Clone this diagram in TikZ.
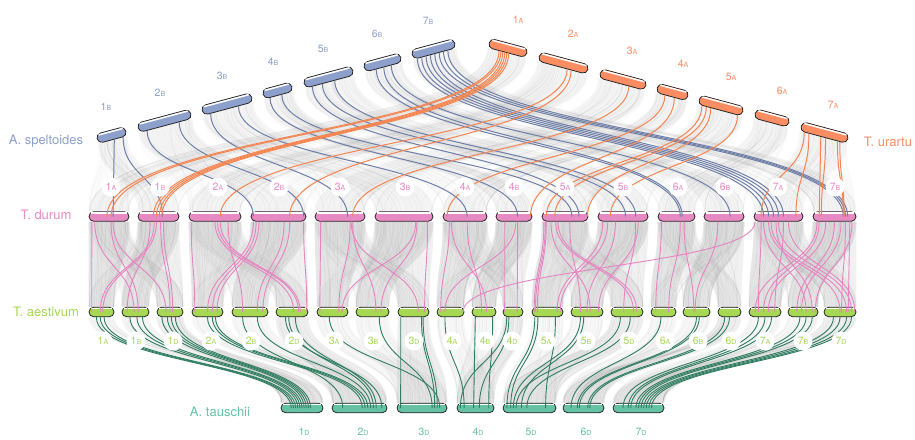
\documentclass[tikz,border=0pt]{standalone}
\usepackage{fontspec}
\setmainfont{TeX Gyre Heros}
\usetikzlibrary{calc}
\pgfdeclarelayer{bg}\pgfdeclarelayer{fg}\pgfdeclarelayer{lab}
\pgfsetlayers{bg,main,fg,lab}
\definecolor{cspel}{HTML}{8DA0CB}
\definecolor{curar}{HTML}{FC8D62}
\definecolor{cdur}{HTML}{E78AC3}
\definecolor{caes}{HTML}{A6D854}
\definecolor{ctau}{HTML}{66C2A5}
\definecolor{lspel}{HTML}{6E7EA6}
\definecolor{lurar}{HTML}{F5844F}
\definecolor{ldur}{HTML}{E584C0}
\definecolor{ltau}{HTML}{2E7D60}
\tikzset{
 chrbar/.style={rectangle, rounded corners=4.7pt, minimum height=9.5pt, inner sep=0pt, draw=black!85, line width=0.8pt, fill=#1},
 grayln/.style={draw=black!50, line width=0.3pt, opacity=0.09},
 spelln/.style={draw=lspel, line width=1pt},
 urarln/.style={draw=lurar, line width=1pt},
 durln/.style={draw=ldur, line width=0.9pt},
 tauln/.style={draw=ltau, line width=0.9pt},
 chrlab/.style={circle, fill=white, inner sep=0pt, minimum size=19pt, text=#1},
 species/.style={font=\fontsize{13}{15}\selectfont, text=#1, inner sep=0pt, text height=9.4pt, text depth=0pt}
}
\newcommand\chrnum[2]{{\fontsize{10.5}{12}\selectfont #1}{\fontsize{7}{8}\selectfont #2}}
\newcommand\mkbar[6]{%
 \node[chrbar=#6, minimum width=#4pt, rotate=#5] (#1) at (#2,#3) {};%
 \draw[white, line width=1.5pt, shorten <=2.8pt, shorten >=2.8pt] ($(#1.north west)!0.17!(#1.south west)$) -- ($(#1.north east)!0.17!(#1.south east)$);}
\newcommand\grays[4]{%
 \foreach \k in {1,...,#3}{%
  \pgfmathsetmacro\fa{0.03+0.94*rnd}%
  \pgfmathsetmacro\fb{max(0.03,min(0.97,\fa+#4*(rnd-0.5)))}%
  \path ($(#1.south west)!\fa!(#1.south east)$) coordinate (ga) ($(#2.north west)!\fb!(#2.north east)$) coordinate (gb);%
  \draw[grayln] (ga) .. controls ($(ga)!0.5!(ga |- gb)$) and ($(gb)!0.5!(gb |- ga)$) .. (gb);%
 }}
\newcommand\ribbon[3]{%
 \path (#1.south west) coordinate (ra) (#1.south east) coordinate (rb) (#2.north west) coordinate (rc) (#2.north east) coordinate (rd);%
 \fill[black!22, fill opacity=#3] (ra) .. controls ($(ra)!0.5!(ra |- rc)$) and ($(rc)!0.5!(rc |- ra)$) .. (rc) -- (rd) .. controls ($(rd)!0.5!(rd |- rb)$) and ($(rb)!0.5!(rb |- rd)$) .. (rb) -- cycle;}
\newcommand\cln[5]{%
 \path ($(#2.south west)!#3!(#2.south east)$) coordinate (ca) ($(#4.west)!#5!(#4.east)$) coordinate (cb);%
 \draw[#1] (ca) .. controls ($(ca)!0.5!(ca |- cb)$) and ($(cb)!0.5!(cb |- ca)$) .. (cb);}
\begin{document}
\begin{tikzpicture}[x=1pt,y=-1pt]
\useasboundingbox (0,0) rectangle (915,439);
\pgfmathsetseed{4242}
% ---------------- chromosome bars
\foreach \nm/\x/\y/\L in {s1/111.5/135/29.7, s2/164.5/120.8/54.5, s3/227/104/51.4, s4/277.5/90.5/29.7, s5/328.5/77/50.4, s6/382.5/62.4/38, s7/433.5/49/44.2}
 {\mkbar{\nm}{\x}{\y}{\L}{15}{cspel}}
\foreach \nm/\x/\y/\L in {u1/508/48/39, u2/563.5/63/50.4, u3/623/79.5/47.3, u4/672.5/92/31.7, u5/721/105.5/45.2, u6/772/118/34.9, u7/824.5/132.5/48.3}
 {\mkbar{\nm}{\x}{\y}{\L}{-15}{curar}}
\foreach \nm/\x/\L in {dA1/109/40, dB1/158.5/41, dA2/215/52, dB2/278.5/55, dA3/340/50, dB3/404/58, dA4/465/44, dB4/514/36, dA5/565/46, dB5/623/50, dA6/676.5/37, dB6/724/40, dA7/778.5/49, dB7/834.5/43}
 {\mkbar{\nm}{\x}{216.5}{\L}{0}{cdur}}
\foreach \nm/\x/\L in {aA1/101.5/25, aB1/135.5/27, aD1/170/26, aA2/207.5/31, aB2/250/36, aD2/292/32, aA3/332.5/31, aB3/372.5/33, aD3/413.5/31, aA4/450.5/27, aB4/484/24, aD4/513/20, aA5/547.5/31, aB5/587/32, aD5/627/32, aA6/663.5/25, aB6/696.5/27, aD6/729.5/23, aA7/765/32, aB7/803/30, aD7/840/32}
 {\mkbar{\nm}{\x}{312}{\L}{0}{caes}}
\foreach \nm/\x/\L in {t1/302/42, t2/359.5/55, t3/422/50, t4/475.5/37, t5/529.5/53, t6/583.5/41, t7/638.5/51}
 {\mkbar{\nm}{\x}{408}{\L}{0}{ctau}}
% ---------------- background synteny
\begin{pgfonlayer}{bg}
\foreach \n in {1,...,7}{
 \ribbon{s\n}{dB\n}{0.14}
 \ribbon{u\n}{dA\n}{0.14}
 \ribbon{s\n}{dA\n}{0.06}
 \ribbon{u\n}{dB\n}{0.06}
 \ribbon{dA\n}{aA\n}{0.42}
 \ribbon{dB\n}{aB\n}{0.42}
 \ribbon{dA\n}{aD\n}{0.25}
 \ribbon{dB\n}{aD\n}{0.25}
 \ribbon{dA\n}{aB\n}{0.12}
 \ribbon{dB\n}{aA\n}{0.12}
 \ribbon{aD\n}{t\n}{0.28}
 \ribbon{aA\n}{t\n}{0.15}
 \ribbon{aB\n}{t\n}{0.15}
 \grays{s\n}{dB\n}{28}{0.5}
 \grays{u\n}{dA\n}{28}{0.5}
 \grays{s\n}{dA\n}{10}{1.5}
 \grays{u\n}{dB\n}{10}{1.5}
 \grays{dA\n}{aA\n}{36}{0.5}
 \grays{dB\n}{aB\n}{36}{0.5}
 \grays{dA\n}{aD\n}{18}{1.2}
 \grays{dB\n}{aD\n}{18}{1.2}
 \grays{dA\n}{aB\n}{10}{1.5}
 \grays{dB\n}{aA\n}{10}{1.5}
 \grays{aD\n}{t\n}{28}{0.5}
 \grays{aA\n}{t\n}{16}{1.0}
 \grays{aB\n}{t\n}{16}{1.0}
}
\end{pgfonlayer}
% ---------------- highlighted links
\begin{pgfonlayer}{fg}
\foreach \s/\a/\t/\b in {s1/.55/dA1/.6, s1/.85/dB1/.6, s2/.15/dB2/.05, s2/.75/dB2/.95, s3/.15/dA3/.65, s3/.7/dA4/.55, s4/.2/dB4/.6, s4/.6/dA5/.65, s5/.15/dA5/.8, s5/.35/dB5/.55, s5/.6/dB5/.75, s6/.3/dA6/.6, s6/.5/dA6/.65, s6/.7/dB6/.65, s7/.1/dA7/.2, s7/.2/dA7/.3, s7/.3/dA7/.4, s7/.4/dA7/.5, s7/.5/dA7/.6, s7/.6/dB7/.7, s7/.7/dB7/.75, s7/.8/dB7/.8}
 {\cln{spelln}{\s}{\a}{\t}{\b}}
\foreach \s/\a/\t/\b in {u1/.30/dA1/.45, u1/.35/dA1/.55, u1/.40/dB1/.38, u1/.45/dB1/.45, u1/.5/dB1/.52, u1/.55/dB1/.58, u2/.6/dA2/.6, u2/.68/dB2/.7, u3/.65/dA3/.75, u4/.3/dA4/.1, u4/.6/dB4/.95, u5/.1/dA5/.1, u5/.2/dA5/.28, u5/.3/dA5/.98, u5/.9/dB5/.25, u7/.1/dA7/.15, u7/.2/dA7/.85, u7/.45/dB7/.15, u7/.55/dB7/.2, u7/.8/dB7/.7, u7/.85/dB7/.72}
 {\cln{urarln}{\s}{\a}{\t}{\b}}
\foreach \s/\a/\t/\b in {dA1/.08/aA1/.12, dA1/.15/aB1/.45, dA1/.55/aB1/.6, dA1/.6/aD1/.35, dB1/.4/aA1/.45, dB1/.45/aA1/.55, dB1/.55/aD1/.5, dB1/.62/aD1/.6, dB1/.3/aB1/.2,
 dA2/.05/aA2/.1, dA2/.5/aD2/.55, dA2/.55/aD2/.7, dA2/.6/aD2/.75, dA2/.75/aB2/.3, dB2/.05/aA2/.5, dB2/.1/aA2/.65, dB2/.15/aA2/.8, dB2/.6/aB2/.7, dB2/.7/aB2/.85, dB2/.95/aD2/.95,
 dA3/.12/aA3/.1, dA3/.7/aA3/.7, dA3/.72/aD3/.65, dA3/.75/aB3/.6, dB3/.7/aA3/.8, dB3/.72/aB3/.75, dB3/.9/aD3/.85,
 dA4/.15/aA4/.15, dA4/.2/aB4/.6, dA4/.55/aB4/.4, dB4/.55/aA4/.3, dB4/.25/aD4/.1, dB4/.6/aD4/.7, dA7/.03/aA4/.95,
 dA5/.05/aA5/.08, dA5/.08/aA5/.12, dA5/.1/aA5/.18, dA5/.2/aB5/.6, dA5/.3/aD5/.7, dA5/.35/aD5/.8, dA5/.6/aB5/.3, dB5/.1/aA5/.8, dB5/.2/aA5/.9, dB5/.35/aB5/.5, dB5/.75/aD5/.4, dB5/.8/aB5/.85,
 dA6/.1/aA6/.2, dA6/.6/aA6/.7, dA6/.7/aB6/.4, dB6/.35/aB6/.45,
 dA7/.15/aA7/.3, dA7/.2/aB7/.6, dA7/.3/aD7/.5, dA7/.35/aD7/.7, dA7/.45/aB7/.8, dA7/.5/aD7/.85, dA7/.6/aA7/.8, dA7/.7/aD7/.95, dB7/.1/aA7/.2, dB7/.15/aA7/.45, dB7/.3/aA7/.6, dB7/.5/aB7/.3, dB7/.65/aB7/.45, dB7/.75/aD7/.55, dB7/.85/aD7/.75, dB7/.9/aB7/.9}
 {\cln{durln}{\s}{\a}{\t}{\b}}
\foreach \s/\a/\t/\b in {aA1/.3/t1/.25, aA1/.45/t1/.3, aA1/.6/t1/.35, aB1/.3/t1/.4, aB1/.55/t1/.45, aB1/.75/t1/.5, aD1/.2/t1/.55, aD1/.4/t1/.6, aD1/.55/t1/.65, aD1/.7/t1/.7,
 aA2/.5/t2/.55, aA2/.65/t2/.6, aA2/.75/t2/.65, aB2/.3/t2/.2, aB2/.7/t2/.7, aD2/.4/t2/.75, aD2/.6/t2/.8, aD2/.3/t2/.9,
 aA3/.4/t3/.85, aB3/.7/t3/.7, aD3/.1/t3/.08, aD3/.75/t3/.75, aD3/.8/t3/.8,
 aA4/.3/t4/.2, aB4/.15/t4/.45, aB4/.85/t4/.85, aD4/.2/t4/.1, aD4/.3/t4/.6,
 aA5/.1/t5/.08, aA5/.2/t5/.15, aA5/.75/t5/.8, aB5/.3/t5/.2, aB5/.4/t5/.35, aD5/.3/t5/.25, aD5/.6/t5/.45,
 aA6/.4/t6/.2, aB6/.5/t6/.35, aB6/.6/t6/.4, aD6/.3/t6/.6, aD6/.5/t6/.65,
 aA7/.3/t7/.2, aA7/.5/t7/.3, aA7/.7/t7/.35, aB7/.4/t7/.45, aB7/.6/t7/.5, aB7/.8/t7/.55, aD7/.3/t7/.6, aD7/.5/t7/.65, aD7/.7/t7/.7, aD7/.85/t7/.75}
 {\cln{tauln}{\s}{\a}{\t}{\b}}
\end{pgfonlayer}
% ---------------- labels
\begin{pgfonlayer}{lab}
\foreach \nm/\x/\y in {1/106/107, 2/160/93, 3/222/76, 4/273/62, 5/323/49, 6/377/34, 7/428/21}
 {\node[chrlab=cspel] (ls\nm) at (\x,\y) {\chrnum{\nm}{B}};}
\foreach \nm/\x/\y in {1/518/20, 2/573/34, 3/632/51, 4/683/64, 5/731/77, 6/782/91, 7/833/105}
 {\node[chrlab=curar] (lu\nm) at (\x,\y) {\chrnum{\nm}{A}};}
\foreach \nm/\g/\x in {1/A/111, 1/B/160, 2/A/218, 2/B/279, 3/A/340, 3/B/405, 4/A/465, 4/B/514, 5/A/565, 5/B/623, 6/A/678, 6/B/725, 7/A/778, 7/B/835}
 {\node[chrlab=cdur] (ld\g\nm) at (\x,187) {\chrnum{\nm}{\g}};}
\foreach \nm/\g/\x in {1/A/103, 1/B/136, 1/D/173, 2/A/211, 2/B/251, 2/D/294, 3/A/334, 3/B/373, 3/D/414, 4/A/452, 4/B/485, 4/D/512, 5/A/546, 5/B/586, 5/D/629, 6/A/665, 6/B/698, 6/D/731, 7/A/765, 7/B/803, 7/D/841}
 {\node[chrlab=caes] (la\g\nm) at (\x,341) {\chrnum{\nm}{\g}};}
\foreach \nm/\x in {1/304, 2/363, 3/424, 4/478, 5/531, 6/586, 7/641}
 {\node[chrlab=ctau, minimum size=14pt] (lt\nm) at (\x,432) {\chrnum{\nm}{D}};}
\node[species=cspel] (nsp) at (46,140) {A. speltoides};
\node[species=curar] (nur) at (888,142) {T. urartu};
\node[species=cdur] (ndu) at (46,215) {T. durum};
\node[species=caes] (nae) at (46,312) {T. aestivum};
\node[species=ctau] (nta) at (220,412) {A. tauschii};
\end{pgfonlayer}
\end{tikzpicture}
\end{document}
